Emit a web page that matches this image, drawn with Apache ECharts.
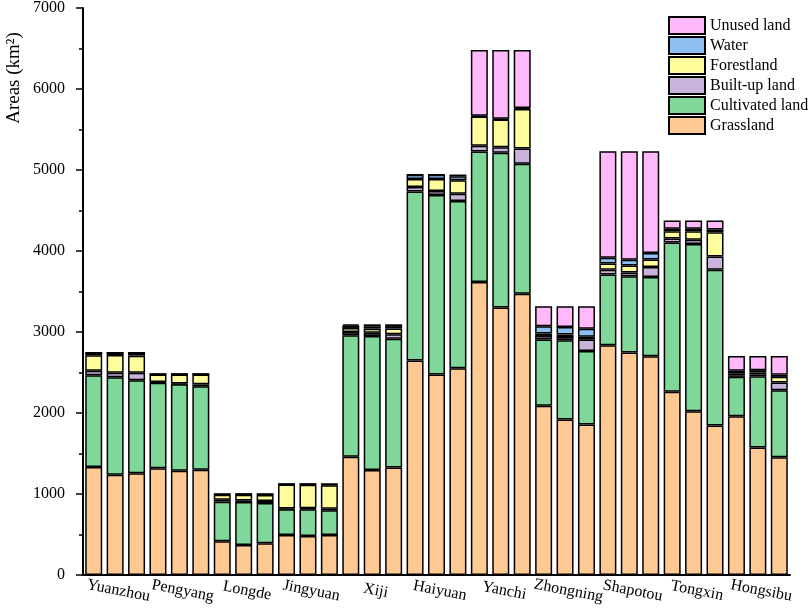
<!DOCTYPE html>
<html>
<head>
<meta charset="utf-8">
<script src="https://cdn.jsdelivr.net/npm/echarts@6/dist/echarts.min.js"></script>
<style>
  html, body { margin: 0; padding: 0; background: #fff; }
  #chart { width: 809px; height: 608px; }
</style>
</head>
<body>
<div id="chart"></div>
<script>
// Regions, three bars each
const regions = ['Yuanzhou', 'Pengyang', 'Longde', 'Jingyuan', 'Xiji', 'Haiyuan', 'Yanchi', 'Zhongning', 'Shapotou', 'Tongxin', 'Hongsibu']
const yTicks = [0, 1000, 2000, 3000, 4000, 5000, 6000, 7000]

// Areas (km2) per land type, 33 bars
const grassland = [1333, 1239, 1255, 1317, 1288, 1300, 416, 370, 391, 494, 481, 494, 1459, 1295, 1328, 2647, 2474, 2552, 3617, 3304, 3473, 2088, 1919, 1858, 2836, 2746, 2700, 2261, 2022, 1845, 1961, 1574, 1455]
const cultivated = [1132, 1201, 1148, 1058, 1066, 1029, 489, 531, 498, 317, 330, 304, 1500, 1656, 1590, 2088, 2216, 2065, 1611, 1908, 1603, 818, 979, 908, 875, 941, 978, 1845, 2063, 1924, 485, 880, 826]
const builtUp = [58, 58, 95, 8, 10, 25, 25, 20, 25, 10, 12, 20, 41, 40, 55, 55, 50, 90, 70, 69, 189, 45, 40, 140, 58, 49, 123, 49, 54, 164, 20, 20, 95]
const forestland = [189, 218, 210, 93, 112, 122, 60, 70, 75, 296, 292, 290, 50, 50, 70, 100, 150, 165, 361, 341, 489, 30, 30, 35, 78, 86, 95, 90, 106, 300, 25, 25, 70]
const water = [33, 29, 37, 5, 5, 5, 8, 9, 11, 6, 8, 15, 30, 30, 30, 50, 50, 50, 10, 10, 10, 90, 95, 100, 70, 71, 78, 30, 30, 33, 30, 30, 25]
const unused = [0, 0, 0, 0, 0, 0, 2, 0, 0, 0, 0, 0, 15, 24, 22, 4, 4, 22, 813, 850, 718, 246, 254, 276, 1315, 1339, 1258, 102, 102, 111, 183, 175, 233]

const font = 'Liberation Serif'

const chart = echarts.init(document.getElementById('chart'))

const makeSeries = (name, data, color) => ({
  name,
  type: 'bar',
  stack: 'total',
  barWidth: 17,
  data,
  itemStyle: { color, borderColor: '#000', borderWidth: 1.5 }
})

const options = {
  animation: false,
  grid: { left: 83, right: 19, top: 8, bottom: 33 },
  legend: {
    orient: 'vertical',
    left: 668,
    top: 16,
    padding: 0,
    itemWidth: 36,
    itemHeight: 17,
    itemGap: 1,
    icon: 'rect',
    data: ['Unused land', 'Water', 'Forestland', 'Built-up land', 'Cultivated land', 'Grassland'],
    textStyle: { fontFamily: font, fontSize: 16, color: '#000' }
  },
  graphic: [{
    type: 'text',
    x: 14,
    y: 78,
    rotation: Math.PI / 2,
    style: { text: 'Areas (km²)', fontFamily: font, fontSize: 19, fill: '#000', align: 'center', verticalAlign: 'middle' }
  }],
  xAxis: {
    type: 'category',
    data: regions.flatMap(r => [r, r, r]),
    axisLine: { lineStyle: { color: '#000', width: 2 } },
    axisTick: { show: false },
    axisLabel: {
      // every label drawn, only the middle bar of a region gets text
      interval: 0,
      formatter: (v, i) => (i % 3 === 1 ? v : ''),
      rotate: -11,
      align: 'center',
      verticalAlign: 'top',
      margin: 7,
      padding: [0, 0, 0, 10],
      fontFamily: font,
      fontSize: 16,
      color: '#000'
    }
  },
  yAxis: {
    type: 'value',
    min: yTicks[0],
    max: yTicks[yTicks.length - 1],
    interval: 1000,
    splitLine: { show: false },
    axisLine: { show: true, lineStyle: { color: '#000', width: 2 } },
    axisTick: { show: true, length: 7, lineStyle: { color: '#000', width: 1.5 } },
    minorTick: { show: true, splitNumber: 2, length: 4, lineStyle: { color: '#000', width: 1.5 } },
    axisLabel: { margin: 18, fontFamily: font, fontSize: 16, color: '#000', formatter: (v) => String(v) }
  },
  series: [
    makeSeries('Grassland', grassland, '#FFC994'),
    makeSeries('Cultivated land', cultivated, '#7FD89A'),
    makeSeries('Built-up land', builtUp, '#C9B3DA'),
    makeSeries('Forestland', forestland, '#FFFC9C'),
    makeSeries('Water', water, '#8EBFF3'),
    makeSeries('Unused land', unused, '#FFB8FA')
  ]
}

chart.setOption(options)
</script>
</body>
</html>
